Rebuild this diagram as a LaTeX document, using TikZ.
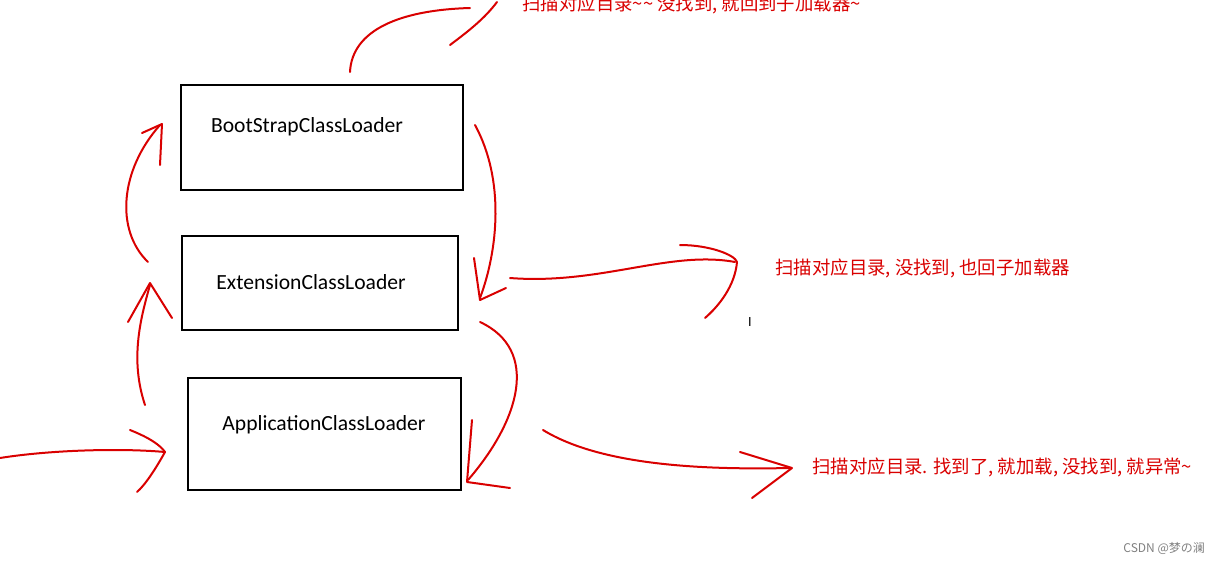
\documentclass[tikz,border=0pt]{standalone}
\usepackage{fontspec}
\setmainfont{Carlito}
\newfontfamily\cjk{Noto Sans CJK SC}
\begin{document}
\begin{tikzpicture}[x=0.5pt,y=-0.5pt,
  box/.style={draw,line width=1.3pt},
  lbl/.style={font=\fontsize{10.8}{12}\selectfont},
  red/.style={draw=red!85!black,line width=1pt,line cap=round,line join=round},
  note/.style={text=red!85!black,font=\cjk\fontsize{9.2}{10}\selectfont,anchor=west,inner sep=0}]
\useasboundingbox (0,0) rectangle (1223,563);
\draw[box] (181,85) rectangle (463,190);
\draw[box] (182,236) rectangle (458,330);
\draw[box] (188,378) rectangle (461,490);
\node[lbl] (boot) at (307,127) {BootStrapClassLoader};
\node[lbl] (ext) at (311,282) {ExtensionClassLoader};
\node[lbl] (app) at (324,425) {ApplicationClassLoader};
% top
\draw[red] (350,72) .. controls (352,30) and (400,10) .. (470,8);
\draw[red] (450,45) .. controls (470,30) and (485,18) .. (497,2);
% right of boot
\draw[red] (475,125) .. controls (505,180) and (498,250) .. (480,298);
\draw[red] (474,258) -- (480,300) -- (506,288);
% ext right
\draw[red] (510,278) .. controls (600,285) and (670,250) .. (735,262);
\draw[red] (680,245) .. controls (710,245) and (735,255) .. (737,262) .. controls (735,285) and (720,305) .. (705,318);
% right of ext
\draw[red] (480,322) .. controls (540,350) and (520,420) .. (468,480);
\draw[red] (472,420) -- (467,482) -- (510,488);
% app right
\draw[red] (543,430) .. controls (600,465) and (700,470) .. (790,468);
\draw[red] (740,452) -- (792,468) -- (752,498);
% left input
\draw[red] (0,458) .. controls (50,450) and (120,448) .. (165,452);
\draw[red] (130,430) .. controls (150,438) and (160,445) .. (165,452) .. controls (155,470) and (145,485) .. (137,492);
% app -> ext
\draw[red] (145,405) .. controls (130,360) and (140,320) .. (150,285);
\draw[red] (128,322) -- (150,283) -- (172,318);
% ext -> boot
\draw[red] (148,262) .. controls (115,230) and (120,170) .. (160,125);
\draw[red] (142,133) -- (162,124) -- (160,165);
\node[note] (n1) at (522,4) {扫描对应目录\textasciitilde\textasciitilde{} 没找到, 就回到子加载器\textasciitilde};
\node[note] (n2) at (775,268) {扫描对应目录, 没找到, 也回子加载器};
\node[note] (n3) at (812,467) {扫描对应目录. 找到了, 就加载, 没找到, 就异常\textasciitilde};
\node[font=\fontsize{7}{8}\selectfont] (cur) at (750,322) {I};
\node[font=\cjk\fontsize{6}{7}\selectfont,text=gray,anchor=east] (wm) at (1212,548) {CSDN @梦の澜};
\end{tikzpicture}
\end{document}
